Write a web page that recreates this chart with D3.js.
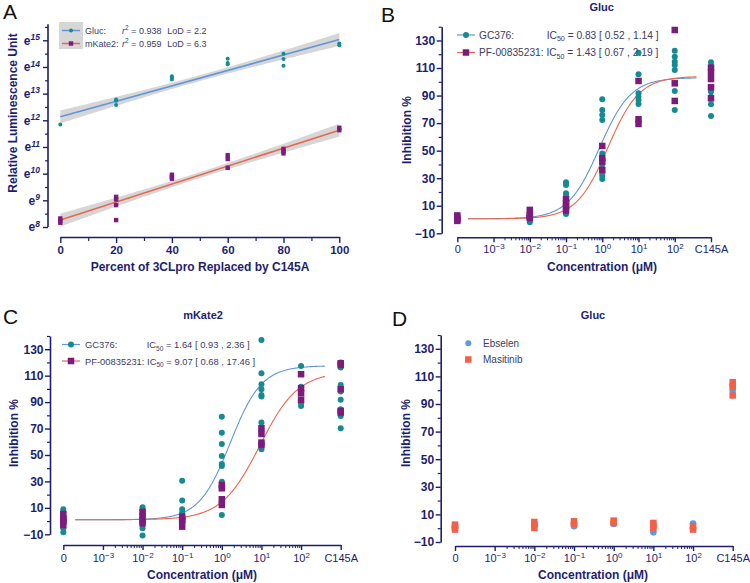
<!DOCTYPE html>
<html><head><meta charset="utf-8">
<script src="https://cdn.jsdelivr.net/npm/d3@7"></script>
<style>body{margin:0;background:#fff;} svg text{font-family:"Liberation Sans",Arial,sans-serif;}</style>
</head><body><svg id="c" width="750" height="583"></svg>
<script>
// ---------------- Panel A data (natural-log RLU) ----------------
const pctReplaced = [0, 20, 40, 60, 80, 100];
const glucLn = [[11.84], [12.78, 12.73, 12.57], [13.65, 13.60, 13.53], [14.31, 14.15, 14.10], [14.50, 14.30, 14.05], [14.88, 14.81]];
const mkateLn = [[8.32, 8.23, 8.16], [9.13, 9.03, 8.82, 8.26], [9.96, 9.88, 9.81], [10.69, 10.55, 10.22], [10.93, 10.85, 10.76], [11.72, 11.63]];
const glucFitEnds = [12.13, 15.03];   // fitted ln value at 0 % and 100 %
const mkateFitEnds = [8.26, 11.63];
const bandHalf = [0.24, 0.11];        // 95% band half-width at ends / at centre
const lnTicks = [8, 9, 10, 11, 12, 13, 14, 15];
const pctTicks = [0, 20, 40, 60, 80, 100];
const pctMinor = [10, 30, 50, 70, 90];

// ---------------- Dose-response categories ----------------
const doseCats = ["0", "0.01", "0.1", "1", "10", "100", "C145A"];
const doseSlot = [1e-4, 1e-2, 1e-1, 1, 10, 100, 1e3];
const doseTickVals = [1e-4, 1e-3, 1e-2, 1e-1, 1, 10, 100, 1e3];
const doseTickLabels = ["0", "10^−3", "10^−2", "10^−1", "10^0", "10^1", "10^2", "C145A"];
const inhTicks = [-10, 10, 30, 50, 70, 90, 110, 130];
const inhMinor = [0, 20, 40, 60, 80, 100, 120, 140];

// Panel B (Gluc)
const gcB = [[1, 0, -1], [-2, 1, 3, 2], [27, 25, 19, 18, 14, 10, 5, 4], [87.3, 79.5, 75.9, 72.3, 48, 40, 33.6, 31.7, 29.5], [121.1, 105.4, 91.6, 89.2, 86.8, 83.9], [122.6, 118.2, 114.6, 112.2, 108.6, 93.3, 79.5], [114.2, 111, 106.6, 92.8, 89.2, 83.7, 75.2]];
const pfB = [[3, 1, -1, 0], [7, 3, 1, 2], [14.7, 11.9, 9.4, 6.5], [53.4, 44.6, 42.1, 36], [100.6, 72.8, 69.4], [137.6, 98.9, 86.1], [110.3, 106.6, 102, 96, 88]];
const gcFitB = [0.5, 103, 0.83, 1];   // bottom, top, IC50, hill
const pfFitB = [0.5, 104, 1.43, 1];

// Panel C (mKate2)
const gcC = [[8.9, 6.4, -5.5, -8.5, 2, 0], [10.4, 8.4, -1.7, -5.5, -11, 3], [30.6, 15.5, 8.9, 6.4, 2], [79, 66.9, 58.4, 49.3, 43.2, 41.7, 29.8, 4.6], [137, 111.8, 103.5, 99.7, 95.4, 94.2, 74.5, 54.3], [117.4, 101.7, 99.2, 89.1, 87.1], [119.9, 116.1, 103, 98, 91.7, 84.6, 79.5, 70.2]];
const pfC = [[5.4, 2.1, -0.4, -3, 1], [7, 3.9, 0.8, -1.7], [3.4, 0.3, -4.2, 1], [27.3, 24.8, 16.5, 12.2], [70.2, 65.9, 59.4, 57.6], [111.1, 100.5, 96.7, 91.7], [119.4, 118.1, 99.7, 83.3, 82.1]];
const gcFitC = [1, 117.5, 1.64, 1.1];
const pfFitC = [1, 113, 9.07, 0.9];

// Panel D (Gluc)
const ebsD = [[0, 1], [2, 3], [1.5, 3], [3, 4], [-3, 1], [3.3, 0], [100, 103]];
const masD = [[2.6, 0.9, -1], [4.5, 2.6, 0.2], [5, 3.3], [5.5, 3.8], [3.8, 1.9, 0.2], [1.4, -1], [105.8, 102.9, 96.2]];

const curveLogRange = [-3.7, 2.6];

// ---------------- styles ----------------
const navy = "#1e1e6e", legendColor = "#3b3b66";
const teal = "#168a92", purple = "#7c1b7c";
const blueLine = "#6196d8", redLine = "#e8674e";
const ebsColor = "#5d9bdc", masColor = "#f2604a";
const FONT = "Liberation Sans, Arial, sans-serif";

const svg = d3.select("#c");

function styleAxis(g, size, weight) {
  g.attr("font-family", FONT).attr("font-size", size).attr("font-weight", weight);
  g.select(".domain").attr("stroke", navy).attr("stroke-width", 1.6);
  g.selectAll(".tick line").attr("stroke", navy).attr("stroke-width", 1.4);
  g.selectAll(".tick text").attr("fill", navy);
}

function flatten(groups, xs) {
  const out = [];
  groups.forEach((vals, i) => vals.forEach(v => out.push({ x: xs[i], y: v })));
  return out;
}

function letter(txt, x, y) {
  svg.append("text").attr("x", x).attr("y", y).attr("font-size", 21).attr("fill", "#111").text(txt);
}

// =============== PANEL A ===============
(function () {
  const x = d3.scaleLinear().domain([0, 100]).range([60.3, 339.3]);
  const y = d3.scaleLinear().domain([8, 15.6]).range([227, 24.3]);
  const g = svg.append("g");

  // bands
  const xs = d3.range(0, 100.01, 1);
  const hw = v => Math.sqrt(bandHalf[1] ** 2 + (bandHalf[0] ** 2 - bandHalf[1] ** 2) * ((v - 50) / 50) ** 2);
  [glucFitEnds, mkateFitEnds].forEach(f => {
    const fit = v => f[0] + (f[1] - f[0]) * v / 100;
    g.append("path").datum(xs)
      .attr("d", d3.area().x(d => x(d)).y0(d => y(fit(d) - hw(d))).y1(d => y(fit(d) + hw(d))))
      .attr("fill", "#cfcfcf").attr("opacity", 0.85);
  });
  // lines
  [[glucFitEnds, blueLine], [mkateFitEnds, redLine]].forEach(([f, c]) => {
    g.append("line").attr("x1", x(0)).attr("x2", x(100)).attr("y1", y(f[0])).attr("y2", y(f[1]))
      .attr("stroke", c).attr("stroke-width", 1.6);
  });
  // points
  g.selectAll(".ga").data(flatten(glucLn, pctReplaced)).join("circle")
    .attr("cx", d => x(d.x)).attr("cy", d => y(d.y)).attr("r", 2).attr("fill", teal);
  g.selectAll(".ma").data(flatten(mkateLn, pctReplaced)).join("rect")
    .attr("x", d => x(d.x) - 2.2).attr("y", d => y(d.y) - 2.2).attr("width", 4.4).attr("height", 4.4).attr("fill", purple);

  // axes
  const gy = g.append("g").attr("transform", "translate(48,0)")
    .call(d3.axisLeft(y).tickValues(lnTicks).tickSize(5).tickSizeOuter(0).tickPadding(3));
  g.append("g").attr("transform", "translate(48,0)")
    .call(d3.axisLeft(y).tickValues(d3.range(8.5, 15.6, 0.5).filter(v => v % 1 !== 0)).tickSize(3).tickSizeOuter(0).tickFormat(""))
    .call(a => { a.select(".domain").remove(); a.selectAll("line").attr("stroke", navy).attr("stroke-width", 1.2); });
  styleAxis(gy, 12, "bold");
  gy.select(".domain").attr("d", `M0,${y(15.6)}V${y(8)}`);
  gy.selectAll(".tick text").text(null).each(function (d) {
    const t = d3.select(this);
    t.append("tspan").text("e");
    t.append("tspan").attr("dy", "-0.55em").attr("font-size", 8.5).attr("font-style", "italic").text(d);
  });

  const gx = g.append("g").attr("transform", "translate(0,237)")
    .call(d3.axisBottom(x).tickValues(pctTicks).tickSize(6).tickSizeOuter(0).tickPadding(3));
  styleAxis(gx, 11.5, "bold");
  g.append("g").attr("transform", "translate(0,237)")
    .call(d3.axisBottom(x).tickValues(pctMinor).tickSize(4).tickFormat(""))
    .call(a => { a.select(".domain").remove(); a.selectAll("line").attr("stroke", navy).attr("stroke-width", 1.2); });

  g.append("text").attr("transform", "translate(13,113) rotate(-90)").attr("text-anchor", "middle").attr("dy", "0.35em")
    .attr("font-size", 12).attr("font-weight", "bold").attr("fill", navy).text("Relative Luminescence Unit");
  g.append("text").attr("x", 200).attr("y", 271).attr("text-anchor", "middle")
    .attr("font-size", 12).attr("font-weight", "bold").attr("fill", navy).text("Percent of 3CLpro Replaced by C145A");

  // legend
  g.append("rect").attr("x", 59).attr("y", 22).attr("width", 24).attr("height", 27).attr("fill", "#d6d6d6");
  const rows = [["Gluc:", "0.938", "2.2", blueLine, "c", 30.5], ["mKate2:", "0.959", "6.3", redLine, "s", 43.5]];
  rows.forEach(([name, r2, lod, c, m, yy]) => {
    g.append("line").attr("x1", 62).attr("x2", 80).attr("y1", yy).attr("y2", yy).attr("stroke", c).attr("stroke-width", 1.5);
    if (m === "c") g.append("circle").attr("cx", 71).attr("cy", yy).attr("r", 2).attr("fill", teal);
    else g.append("rect").attr("x", 68.8).attr("y", yy - 2.2).attr("width", 4.4).attr("height", 4.4).attr("fill", purple);
    const base = yy + 3.3;
    g.append("text").attr("x", 85).attr("y", base).attr("font-size", 9).attr("fill", legendColor).text(name);
    const t = g.append("text").attr("x", 122).attr("y", base).attr("font-size", 9).attr("fill", legendColor);
    t.append("tspan").attr("font-style", "italic").text("r");
    t.append("tspan").attr("dy", -4).attr("font-size", 6.5).text("2");
    t.append("tspan").attr("dy", 4).text(" = " + r2);
    g.append("text").attr("x", 167.3).attr("y", base).attr("font-size", 9).attr("fill", legendColor).text("LoD = " + lod);
  });
  letter("A", 3, 19);
})();

// =============== Dose-response panels ===============
function dosePanel(cfg) {
  const x = d3.scaleLog().domain([1e-4, 1e3]).range(cfg.xr);
  const y = d3.scaleLinear().domain([-10, 140]).range(cfg.yr);
  const g = svg.append("g");

  // axes
  const gy = g.append("g").attr("transform", `translate(${cfg.yAxisX},0)`)
    .call(d3.axisLeft(y).tickValues(inhTicks).tickSize(5).tickSizeOuter(0).tickPadding(1.5).tickFormat(d3.format("d")));
  styleAxis(gy, 12, "bold");
  g.append("g").attr("transform", `translate(${cfg.yAxisX},0)`)
    .call(d3.axisLeft(y).tickValues(inhMinor).tickSize(3).tickFormat(""))
    .call(a => { a.select(".domain").remove(); a.selectAll("line").attr("stroke", navy).attr("stroke-width", 1.2); });

  const gx = g.append("g").attr("transform", `translate(0,${cfg.xAxisY})`)
    .call(d3.axisBottom(x).tickValues(doseTickVals).tickSize(5).tickSizeOuter(0).tickPadding(cfg.xPad));
  styleAxis(gx, 11, "normal");
  gx.selectAll(".tick text").text(null).each(function (d, i) {
    const t = d3.select(this), lab = doseTickLabels[i];
    if (lab.includes("^")) {
      const [b, e] = lab.split("^");
      t.append("tspan").text(b);
      t.append("tspan").attr("dy", "-0.5em").attr("font-size", 8).text(e);
    } else t.text(lab);
  });
  const minor = [];
  for (let d = -3; d <= 1; d++) for (let k = 2; k <= 9; k++) minor.push(k * Math.pow(10, d));
  g.append("g").attr("transform", `translate(0,${cfg.xAxisY})`)
    .call(d3.axisBottom(x).tickValues(minor).tickSize(3).tickFormat(""))
    .call(a => { a.select(".domain").remove(); a.selectAll("line").attr("stroke", navy).attr("stroke-width", 1); });

  // curves
  (cfg.curves || []).forEach(([p, c]) => {
    const pts = d3.range(curveLogRange[0], curveLogRange[1] + 0.001, 0.02).map(l => {
      const v = Math.pow(10, l);
      return [v, p[0] + (p[1] - p[0]) / (1 + Math.pow(p[2] / v, p[3]))];
    });
    g.append("path").datum(pts).attr("d", d3.line().x(d => x(d[0])).y(d => y(d[1])))
      .attr("fill", "none").attr("stroke", c).attr("stroke-width", 1.1);
  });

  // points
  cfg.series.forEach(s => {
    const data = flatten(s.groups, doseSlot);
    if (s.shape === "c") {
      g.selectAll(null).data(data).join("circle")
        .attr("cx", d => x(d.x)).attr("cy", d => y(d.y)).attr("r", s.size).attr("fill", s.color);
    } else {
      g.selectAll(null).data(data).join("rect")
        .attr("x", d => x(d.x) - s.size / 2).attr("y", d => y(d.y) - s.size / 2)
        .attr("width", s.size).attr("height", s.size).attr("fill", s.color);
    }
  });

  // titles
  g.append("text").attr("x", cfg.title[1]).attr("y", cfg.title[2]).attr("text-anchor", "middle")
    .attr("font-size", 11).attr("font-weight", "bold").attr("fill", navy).text(cfg.title[0]);
  g.append("text").attr("transform", `translate(${cfg.yTitle[0]},${cfg.yTitle[1]}) rotate(-90)`).attr("text-anchor", "middle")
    .attr("dy", "0.35em").attr("font-size", 12).attr("font-weight", "bold").attr("fill", navy).text("Inhibition %");
  g.append("text").attr("x", cfg.xTitle[0]).attr("y", cfg.xTitle[1]).attr("text-anchor", "middle")
    .attr("font-size", 12).attr("font-weight", "bold").attr("fill", navy).text("Concentration (μM)");

  // legend
  cfg.legend.forEach(L => {
    if (L.line) g.append("line").attr("x1", L.x - 9).attr("x2", L.x + 9).attr("y1", L.y).attr("y2", L.y)
      .attr("stroke", L.line).attr("stroke-width", 1.2);
    if (L.shape === "c") g.append("circle").attr("cx", L.x).attr("cy", L.y).attr("r", L.size).attr("fill", L.color);
    else g.append("rect").attr("x", L.x - L.size / 2).attr("y", L.y - L.size / 2).attr("width", L.size).attr("height", L.size).attr("fill", L.color);
    const t = g.append("text").attr("x", L.tx).attr("y", L.y + 3.5).attr("font-size", L.fs).attr("fill", legendColor);
    t.append("tspan").text(L.name);
    if (L.ic) {
      const t2 = L.icx ? g.append("text").attr("x", L.icx).attr("y", L.y + 3.5).attr("font-size", L.fs).attr("fill", legendColor) : t;
      t2.append("tspan").text("IC");
      t2.append("tspan").attr("dy", 2.5).attr("font-size", L.fs * 0.7).text("50");
      t2.append("tspan").attr("dy", -2.5).text(" = " + L.ic);
    }
  });
  letter(cfg.letter[0], cfg.letter[1], cfg.letter[2]);
}

dosePanel({
  xr: [457.3, 711], yr: [233.3, 26.7], yAxisX: 441.7, xAxisY: 237.3, xPad: 3,
  curves: [[gcFitB, blueLine], [pfFitB, redLine]],
  series: [{ groups: gcB, shape: "c", size: 3, color: teal }, { groups: pfB, shape: "s", size: 6.5, color: purple }],
  title: ["Gluc", 601.7, 11], yTitle: [407, 130], xTitle: [602, 271],
  legend: [
    { x: 466, y: 35, line: blueLine, shape: "c", size: 3, color: teal, tx: 479, fs: 10.2, name: "GC376:", ic: "0.83 [ 0.52 , 1.14 ]", icx: 546.7 },
    { x: 466, y: 52.5, line: redLine, shape: "s", size: 6.5, color: purple, tx: 479, fs: 10.2, name: "PF-00835231: ", ic: "1.43 [ 0.67 , 2.19 ]" }
  ],
  letter: ["B", 381, 22]
});

dosePanel({
  xr: [63.3, 340.7], yr: [534.3, 336], yAxisX: 50, xAxisY: 545, xPad: 4,
  curves: [[gcFitC, blueLine], [pfFitC, redLine]],
  series: [{ groups: gcC, shape: "c", size: 3, color: teal }, { groups: pfC, shape: "s", size: 6.5, color: purple }],
  title: ["mKate2", 203, 319], yTitle: [14, 433], xTitle: [202, 579],
  legend: [
    { x: 71, y: 344.5, line: blueLine, shape: "c", size: 3, color: teal, tx: 85, fs: 9.4, name: "GC376:", ic: "1.64 [ 0.93 ,  2.36 ]", icx: 146.7 },
    { x: 71, y: 361, line: redLine, shape: "s", size: 6.5, color: purple, tx: 85, fs: 9.4, name: "PF-00835231: ", ic: "9.07 [ 0.68 , 17.46 ]" }
  ],
  letter: ["C", 3, 324]
});

dosePanel({
  xr: [455, 732.7], yr: [542, 335], yAxisX: 440.7, xAxisY: 546, xPad: 3,
  curves: [],
  series: [{ groups: ebsD, shape: "c", size: 3.3, color: ebsColor }, { groups: masD, shape: "s", size: 6.5, color: masColor }],
  title: ["Gluc", 593, 319], yTitle: [406, 433], xTitle: [593, 579],
  legend: [
    { x: 468.3, y: 343.3, shape: "c", size: 3, color: ebsColor, tx: 483, fs: 10, name: "Ebselen" },
    { x: 468.3, y: 359.5, shape: "s", size: 6.5, color: masColor, tx: 483, fs: 10, name: "Masitinib" }
  ],
  letter: ["D", 392, 326]
});
</script></body></html>
